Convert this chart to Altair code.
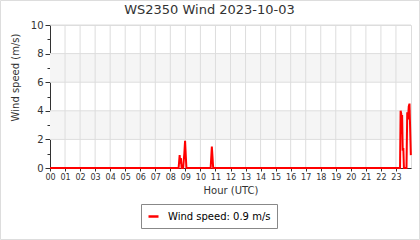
import altair as alt
import pandas as pd

# ---- data ----
hours = [0.0, 8.55, 8.62, 8.66, 8.70, 8.75, 8.85, 8.93, 8.98, 9.03, 9.07,
         10.68, 10.76, 10.85,
         23.27, 23.31, 23.35, 23.38, 23.41, 23.45, 23.49, 23.53,
         23.70, 23.75, 23.80, 23.85, 23.90, 23.99]
speeds = [0.0, 0.0, 0.9, 0.3, 0.7, 0.0, 0.0, 1.0, 1.9, 0.8, 0.0,
          0.0, 1.5, 0.0,
          0.0, 4.0, 3.8, 2.4, 3.7, 1.2, 1.4, 0.0,
          0.0, 3.9, 3.4, 4.3, 4.5, 0.9]
series_name = "Wind speed: 0.9 m/s"
band_lo = [2, 6]
band_hi = [4, 8]
grid_hours = list(range(1, 24))
grid_levels = [2, 4, 6, 8, 10]
tick_hours = list(range(0, 24))
tick_levels = list(range(0, 11))

line_df = pd.DataFrame({"hour": hours, "speed": speeds, "series": series_name})
band_df = pd.DataFrame({"lo": band_lo, "hi": band_hi})
vgrid_df = pd.DataFrame({"hour": grid_hours})
hgrid_df = pd.DataFrame({"level": grid_levels})

FONT = "DejaVu Sans"
xscale = alt.Scale(domain=[0, 24], nice=False, zero=False)
yscale = alt.Scale(domain=[0, 10], nice=False)

xaxis = alt.Axis(
    values=tick_hours,
    title="Hour (UTC)",
    labelExpr="datum.value < 10 ? '0' + datum.value : '' + datum.value",
    grid=False, tickSize=3, labelPadding=2, labelFontSize=8,
    labelFont=FONT, titleFont=FONT, titleFontSize=10, titleFontWeight="normal",
    labelColor="#333", titleColor="#333", domainColor="#333", tickColor="#333",
    labelFlush=False, labelOverlap=False, titlePadding=4,
)
yaxis = alt.Axis(
    values=tick_levels,
    title="Wind speed (m/s)",
    labelExpr="datum.value % 2 === 0 ? datum.label : ''",
    grid=False,
    tickSize={"condition": {"test": "datum.value % 2 === 0", "value": 5}, "value": 3},
    labelPadding=2, labelFontSize=10,
    labelFont=FONT, titleFont=FONT, titleFontSize=10, titleFontWeight="normal",
    labelColor="#333", titleColor="#333", domainColor="#333", tickColor="#333",
    labelFlush=False, labelOverlap=False,
    titleX=-35, titleY=52, titleBaseline="middle", titleAlign="center",
)

bands = alt.Chart(band_df).mark_rect(color="#f5f5f5").encode(
    x=alt.datum(0, scale=xscale, axis=xaxis, type="quantitative"),
    x2=alt.datum(24),
    y=alt.Y("lo:Q", scale=yscale, axis=yaxis),
    y2="hi:Q",
)

vgrid = alt.Chart(vgrid_df).mark_rule(color="#dddddd", strokeWidth=1).encode(
    x=alt.X("hour:Q", scale=xscale, axis=xaxis),
    y=alt.datum(0, scale=yscale, axis=yaxis, type="quantitative"),
    y2=alt.datum(10),
)

hgrid = alt.Chart(hgrid_df).mark_rule(color="#dddddd", strokeWidth=1).encode(
    y=alt.Y("level:Q", scale=yscale, axis=yaxis),
    x=alt.datum(0, scale=xscale, axis=xaxis, type="quantitative"),
    x2=alt.datum(24),
)

line = alt.Chart(line_df).mark_line(strokeWidth=2, interpolate="linear").encode(
    x=alt.X("hour:Q", scale=xscale, axis=xaxis),
    y=alt.Y("speed:Q", scale=yscale, axis=yaxis),
    color=alt.Color(
        "series:N",
        scale=alt.Scale(domain=[series_name], range=["#ff0000"]),
        legend=alt.Legend(
            title=None, orient="none", legendX=91, legendY=179,
            symbolType="stroke", symbolSize=100, symbolStrokeWidth=2.5,
            labelFont=FONT, labelFontSize=10, labelColor="#000",
            strokeColor="#888", padding=6, labelOffset=8,
        ),
    ),
)

frame = alt.Chart(pd.DataFrame({"k": [0]})).mark_rect(
    fill=None, stroke="#dddddd", strokeWidth=1, clip=False
).encode(
    x=alt.value(-49.5), x2=alt.value(369.5),
    y=alt.value(-24.5), y2=alt.value(214.5),
)

chart = alt.layer(bands, hgrid, vgrid, line, frame).properties(
    width=361, height=143,
    title=alt.TitleParams(
        "WS2350 Wind 2023-10-03", font=FONT, fontSize=13, fontWeight="normal",
        color="#333", anchor="middle", dx=-21, offset=-27, baseline="alphabetic",
    ),
    padding={"left": 50, "top": 25, "right": 9, "bottom": 72},
    autosize=alt.AutoSizeParams(type="none"),
).configure_view(stroke=None).configure(background="white")

chart.save("out.html", embed_options={"renderer": "svg", "actions": False})
